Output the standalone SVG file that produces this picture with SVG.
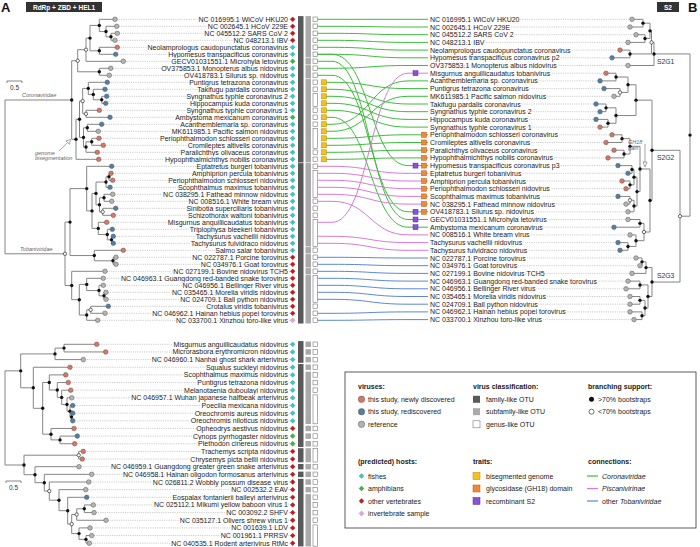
<svg xmlns="http://www.w3.org/2000/svg" xmlns:xlink="http://www.w3.org/1999/xlink" width="700" height="547" viewBox="0 0 700 547">
<style>
text{font-family:"Liberation Sans",Arial,sans-serif}
.L text,.U text{font-size:7px;fill:#1a1a1a;text-anchor:end;paint-order:stroke;stroke:#fff;stroke-width:2px;stroke-linejoin:round}
.R text{font-size:7px;fill:#1a1a1a;paint-order:stroke;stroke:#fff;stroke-width:2px;stroke-linejoin:round}
.dl{stroke:#8c8c8c;stroke-width:0.6;stroke-dasharray:0.7 1.1;fill:none}
.br path{stroke:#858585;stroke-width:1;fill:none}
.nb{fill:#111}
.nw{fill:#fff;stroke:#111;stroke-width:0.6}
.tr{fill:#dd7560;stroke:#555;stroke-width:0.5}
.tb{fill:#4f80aa;stroke:#555;stroke-width:0.5}
.tg{fill:#b4b4b4;stroke:#555;stroke-width:0.5}
.hf{fill:#3ec6c8;stroke:#208a8c}
.ha{fill:#3cb83c;stroke:#217a21}
.hv{fill:#c8171e;stroke:#8a0c10}
.hi{fill:#e2a4e2;stroke:#a070a0}
.cf{fill:#595959}
.cs{fill:#a9a9a9}
.cg{fill:#fff;stroke:#777;stroke-width:0.6}
.ty{fill:#f6c21a;stroke:#b38600;stroke-width:0.5}
.to{fill:#f0883a;stroke:#b35a12;stroke-width:0.5}
.tp{fill:#8a52d6;stroke:#5a2aa0;stroke-width:0.5}
.cn path{fill:none;stroke-width:1}
.gC{stroke:#3cbc3c}
.gP{stroke:#d67ad6}
.gB{stroke:#5a88d2}
.lab{font-size:5.5px;font-style:italic;fill:#666}
.hd{font-size:7px;font-weight:bold;fill:#1a1a1a}
.le{font-size:7px;fill:#1a1a1a}
.sg{font-size:6.8px;fill:#333}
</style>
<defs>
<path id="dm" d="M0-2.4L2.4 0 0 2.4-2.4 0Z" stroke-width="0.4"/>
<rect id="gq" x="0" y="-2.3" width="4.6" height="4.6"/>
<rect id="sq" x="0" y="-2.75" width="5.5" height="5.5"/>
<rect id="fq" x="0" y="-2.75" width="5.5" height="5.5"/>
<rect id="yq" x="0" y="-2.5" width="5" height="5"/>
</defs>

<!-- headers -->
<text x="1" y="12" font-size="13" font-weight="bold" fill="#111">A</text>
<rect x="26" y="2" width="76" height="10" fill="#333"/>
<text x="64" y="9.6" font-size="6.5" font-weight="bold" fill="#fff" text-anchor="middle">RdRp + ZBD + HEL1</text>
<rect x="657" y="2" width="22" height="10" fill="#333"/>
<text x="668" y="9.6" font-size="6.5" font-weight="bold" fill="#fff" text-anchor="middle">S2</text>
<text x="688" y="12" font-size="13" font-weight="bold" fill="#111">B</text>

<!-- scale bars and clade labels -->
<path d="M7 83V81H22V83" stroke="#555" stroke-width="0.7" fill="none"/>
<text x="14.5" y="90" font-size="6.5" fill="#333" text-anchor="middle">0.5</text>
<path d="M6 483V481H21V483" stroke="#555" stroke-width="0.7" fill="none"/>
<text x="13.5" y="490" font-size="6.5" fill="#333" text-anchor="middle">0.5</text>
<text class="lab" x="22" y="97">Coronaviridae</text>
<text class="lab" x="20" y="250.5">Tobaniviridae</text>
<text class="lab" x="35" y="154.5">genome</text>
<text class="lab" x="35" y="160">bisegmentation</text>
<path d="M59 151L67.5 142.8" stroke="#666" stroke-width="0.6"/>
<path d="M70.5 139.5L69.6 144.3 65.9 140.9Z" fill="#fff" stroke="#666" stroke-width="0.6"/>

<!-- tree A top -->
<g id="treeA" class="br">
<path d="M117.3 33.3H111V40.3H115"/><path d="M116.7 26.3H106V36.8H111"/><path d="M115 19.3H99.3V31.55H106"/>
<path d="M117.3 47.3H99.3V54.3H115.7"/><path d="M99.3 25.4H90V50.8H99.3"/><path d="M90 38.1H86V61.3H123.3"/>
<path d="M110.7 68.3H99.3V75.3H109.3"/><path d="M86 49.7H77.7V71.8H99.3"/><path d="M106.7 96.3H101.7V103.3H105.7"/>
<path d="M105 89.3H93.3V99.8H101.7"/><path d="M107.3 82.3H88.3V94.55H93.3"/><path d="M99.3 110.3H86V117.3H110"/>
<path d="M88.3 88.4H82.7V113.8H86"/><path d="M101.7 124.3H87.3V131.3H98.3"/><path d="M99 138.3H91.7V145.3H103.3"/>
<path d="M91.7 141.8H86V152.3H97.3"/><path d="M87.3 127.8H83.5V147.05H86"/><path d="M82.7 101.1H79.5V137.4H83.5"/>
<path d="M79.5 119.25H76V159.3H98.7"/><path d="M77.7 60.75H71.7V139.3H76"/><path d="M71.7 100H5V253.8H65"/>
<path d="M111 173.3H109V180.3H112.7"/><path d="M109 176.8H106V187.3H110"/><path d="M112.7 194.3H104V201.3H111.7"/>
<path d="M115.7 208.3H102.7V215.3H113.3"/><path d="M104 197.8H99.5V211.8H102.7"/><path d="M106 182.05H96V204.8H99.5"/>
<path d="M113.3 236.3H111.5V243.3H113.3"/><path d="M112.3 229.3H107.3V239.8H111.5"/><path d="M106.7 222.3H98.3V234.55H107.3"/>
<path d="M96 193.4H92V228.4H98.3"/><path d="M111.7 166.3H86.7V210.9H92"/><path d="M116 257.3H113V264.3H116"/>
<path d="M123.3 250.3H94.3V260.8H113"/><path d="M86.7 188.6H70V255.55H94.3"/><path d="M106 292.3H104V299.3H106"/>
<path d="M103.3 285.3H99V295.8H104"/><path d="M103.3 278.3H86.7V290.55H99"/><path d="M108.3 306.3H90.7V313.3H105"/>
<path d="M90.7 309.8H86.7V320.3H97.7"/><path d="M86.7 284.4H79.3V315.05H86.7"/><path d="M105 271.3H71.7V299.7H79.3"/>
<path d="M70 222.1H65V285.5H71.7"/>
</g>
<g id="nodesA">
<circle class="nb" cx="111" cy="36.8" r="1.7"/><circle class="nb" cx="106" cy="31.55" r="1.7"/><circle class="nb" cx="99.3" cy="25.4" r="1.7"/>
<circle class="nb" cx="99.3" cy="50.8" r="1.7"/><circle class="nb" cx="90" cy="38.1" r="1.7"/><circle class="nw" cx="86" cy="49.7" r="1.7"/>
<circle class="nb" cx="99.3" cy="71.8" r="1.7"/><circle class="nw" cx="77.7" cy="60.75" r="1.7"/><circle class="nb" cx="101.7" cy="99.8" r="1.7"/>
<circle class="nb" cx="93.3" cy="94.55" r="1.7"/><circle class="nb" cx="88.3" cy="88.4" r="1.7"/><circle class="nw" cx="86" cy="113.8" r="1.7"/>
<circle class="nw" cx="82.7" cy="101.1" r="1.7"/><circle class="nb" cx="87.3" cy="127.8" r="1.7"/><circle class="nb" cx="91.7" cy="141.8" r="1.7"/>
<circle class="nb" cx="86" cy="147.05" r="1.7"/><circle class="nb" cx="83.5" cy="137.4" r="1.7"/><circle class="nb" cx="79.5" cy="119.25" r="1.7"/>
<circle class="nb" cx="76" cy="139.3" r="1.7"/><circle class="nb" cx="71.7" cy="100" r="1.7"/>
<circle class="nb" cx="109" cy="176.8" r="1.7"/><circle class="nb" cx="106" cy="182.05" r="1.7"/><circle class="nb" cx="104" cy="197.8" r="1.7"/>
<circle class="nw" cx="102.7" cy="211.8" r="1.7"/><circle class="nb" cx="99.5" cy="204.8" r="1.7"/><circle class="nb" cx="96" cy="193.4" r="1.7"/>
<circle class="nb" cx="111.5" cy="239.8" r="1.7"/><circle class="nb" cx="107.3" cy="234.55" r="1.7"/><circle class="nb" cx="98.3" cy="228.4" r="1.7"/>
<circle class="nb" cx="92" cy="210.9" r="1.7"/><circle class="nb" cx="86.7" cy="188.6" r="1.7"/><circle class="nb" cx="113" cy="260.8" r="1.7"/>
<circle class="nb" cx="94.3" cy="255.55" r="1.7"/><circle class="nb" cx="70" cy="222.1" r="1.7"/><circle class="nb" cx="104" cy="295.8" r="1.7"/>
<circle class="nb" cx="99" cy="290.55" r="1.7"/><circle class="nb" cx="86.7" cy="284.4" r="1.7"/><circle class="nw" cx="90.7" cy="309.8" r="1.7"/>
<circle class="nb" cx="86.7" cy="315.05" r="1.7"/><circle class="nb" cx="79.3" cy="299.7" r="1.7"/><circle class="nb" cx="71.7" cy="285.5" r="1.7"/>
<circle class="nw" cx="65" cy="253.8" r="1.7"/>
</g>

<!-- tree A bottom -->
<g id="treeC" class="br">
<path d="M96.7 344.3H64V351.95H105.7"/><path d="M64 348.1H55V359.6H83.3"/><path d="M72.7 413.15H71.5V420.8H72.7"/>
<path d="M72.7 405.5H70V417H71.5"/><path d="M71.7 397.85H67V411.2H70"/><path d="M70.7 390.2H61.7V404.5H67"/>
<path d="M68.3 382.55H57.3V397.4H61.7"/><path d="M65.7 374.9H49.3V390H57.3"/><path d="M77.3 436.1H60V443.75H74.7"/>
<path d="M74 428.45H51V439.9H60"/><path d="M49.3 382.45H42.7V434.2H51"/><path d="M70 367.25H33.3V408.3H42.7"/>
<path d="M55 353.9H20.7V387.8H33.3"/><path d="M83.3 451.4H78.7V459.05H82.3"/><path d="M91.7 535.55H86V543.2H89.3"/>
<path d="M90 527.9H79V539.4H86"/><path d="M93.3 504.95H84.3V512.6H94"/><path d="M84.3 508.8H76.7V520.25H106"/>
<path d="M76.7 514.5H71.7V533.6H79"/><path d="M86.7 497.3H67.7V524.05H71.7"/><path d="M85.7 489.65H59V510.7H67.7"/>
<path d="M88.7 482H49.3V500.2H59"/><path d="M91.7 474.35H44.3V491.1H49.3"/><path d="M79 466.7H35V482.7H44.3"/>
<path d="M78.7 455.2H24V474.7H35"/><path d="M20.7 370.85H5V465H24"/>
</g>
<g id="nodesC">
<circle class="nb" cx="64" cy="348.1" r="1.7"/><circle class="nb" cx="55" cy="353.9" r="1.7"/><circle class="nb" cx="71.5" cy="417" r="1.7"/>
<circle class="nb" cx="70" cy="411.2" r="1.7"/><circle class="nb" cx="67" cy="404.5" r="1.7"/><circle class="nb" cx="61.7" cy="397.4" r="1.7"/>
<circle class="nb" cx="57.3" cy="390" r="1.7"/><circle class="nb" cx="49.3" cy="382.45" r="1.7"/><circle class="nb" cx="60" cy="439.9" r="1.7"/>
<circle class="nb" cx="51" cy="434.2" r="1.7"/><circle class="nb" cx="42.7" cy="408.3" r="1.7"/><circle class="nb" cx="33.3" cy="387.8" r="1.7"/>
<circle class="nb" cx="20.7" cy="370.85" r="1.7"/><circle class="nw" cx="78.7" cy="455.2" r="1.7"/><circle class="nb" cx="86" cy="539.4" r="1.7"/>
<circle class="nb" cx="79" cy="533.6" r="1.7"/><circle class="nb" cx="84.3" cy="508.8" r="1.7"/><circle class="nw" cx="76.7" cy="514.5" r="1.7"/>
<circle class="nw" cx="71.7" cy="524.05" r="1.7"/><circle class="nb" cx="67.7" cy="510.7" r="1.7"/><circle class="nb" cx="59" cy="500.2" r="1.7"/>
<circle class="nw" cx="49.3" cy="491.1" r="1.7"/><circle class="nb" cx="44.3" cy="482.7" r="1.7"/><circle class="nb" cx="35" cy="474.7" r="1.7"/>
<circle class="nb" cx="24" cy="465" r="1.7"/>
</g>

<!-- classification columns -->
<g id="classes">
<rect class="cf" x="298" y="16.1" width="5.5" height="146.4"/>
<rect class="cf" x="298" y="163.1" width="5.5" height="160.4"/>
<rect class="cs" x="305.5" y="16.1" width="5.5" height="41.4"/>
<rect class="cs" x="305.5" y="58.1" width="5.5" height="6.4"/>
<rect class="cs" x="305.5" y="65.1" width="5.5" height="13.4"/>
<rect class="cs" x="305.5" y="79.1" width="5.5" height="83.4"/>
<rect class="cs" x="305.5" y="163.1" width="5.5" height="83.4"/>
<rect class="cs" x="305.5" y="247.1" width="5.5" height="6.4"/>
<rect class="cs" x="305.5" y="254.1" width="5.5" height="13.4"/>
<rect class="cs" x="305.5" y="268.1" width="5.5" height="6.4"/>
<rect class="cs" x="305.5" y="275.1" width="5.5" height="48.4"/>
<g class="cg">
<use href="#gq" x="313" y="19.3"/><use href="#gq" x="313" y="26.3"/><use href="#gq" x="313" y="33.3"/><use href="#gq" x="313" y="40.3"/>
<use href="#gq" x="313" y="47.3"/><use href="#gq" x="313" y="54.3"/><use href="#gq" x="313" y="61.3"/><use href="#gq" x="313" y="68.3"/>
<use href="#gq" x="313" y="75.3"/><use href="#gq" x="313" y="82.3"/><use href="#gq" x="313" y="89.3"/>
<rect x="313" y="93.3" width="4.6" height="13"/>
<use href="#gq" x="313" y="110.3"/><use href="#gq" x="313" y="117.3"/><use href="#gq" x="313" y="124.3"/>
<rect x="313" y="128.3" width="4.6" height="20"/>
<use href="#gq" x="313" y="152.3"/><use href="#gq" x="313" y="159.3"/><use href="#gq" x="313" y="166.3"/>
<rect x="313" y="170.3" width="4.6" height="27"/>
<use href="#gq" x="313" y="201.3"/><use href="#gq" x="313" y="208.3"/><use href="#gq" x="313" y="215.3"/>
<rect x="313" y="219.3" width="4.6" height="27"/>
<use href="#gq" x="313" y="250.3"/><use href="#gq" x="313" y="257.3"/><use href="#gq" x="313" y="264.3"/><use href="#gq" x="313" y="271.3"/>
<rect x="313" y="275.3" width="4.6" height="27"/>
<use href="#gq" x="313" y="306.3"/><use href="#gq" x="313" y="313.3"/><use href="#gq" x="313" y="320.3"/>
</g>
<g class="ty">
<use href="#yq" x="321.5" y="82.3"/><use href="#yq" x="321.5" y="89.3"/><use href="#yq" x="321.5" y="96.3"/><use href="#yq" x="321.5" y="103.3"/>
<use href="#yq" x="321.5" y="110.3"/><use href="#yq" x="321.5" y="117.3"/><use href="#yq" x="321.5" y="124.3"/><use href="#yq" x="321.5" y="131.3"/>
<use href="#yq" x="321.5" y="138.3"/><use href="#yq" x="321.5" y="145.3"/><use href="#yq" x="321.5" y="152.3"/><use href="#yq" x="321.5" y="159.3"/>
</g>
<rect class="cf" x="298" y="341.1" width="5.5" height="21.7"/>
<rect class="cf" x="298" y="364.05" width="5.5" height="82.9"/>
<rect class="cf" x="298" y="448.2" width="5.5" height="14.05"/>
<use class="cf" href="#fq" x="298" y="466.7"/><use class="cf" href="#fq" x="298" y="474.35"/>
<rect class="cf" x="298" y="478.8" width="5.5" height="67.6"/>
<g class="cs">
<use href="#sq" x="305.5" y="344.3"/><use href="#sq" x="305.5" y="351.95"/><use href="#sq" x="305.5" y="359.6"/><use href="#sq" x="305.5" y="367.25"/>
<rect x="305.5" y="371.7" width="5.5" height="52.3"/>
<use href="#sq" x="305.5" y="428.45"/><use href="#sq" x="305.5" y="436.1"/><use href="#sq" x="305.5" y="443.75"/>
<rect x="305.5" y="448.2" width="5.5" height="14.05"/>
<use href="#sq" x="305.5" y="466.7"/><use href="#sq" x="305.5" y="474.35"/><use href="#sq" x="305.5" y="482"/><use href="#sq" x="305.5" y="489.65"/>
<rect x="305.5" y="494.1" width="5.5" height="52.3"/>
</g>
<g class="cg">
<use href="#gq" x="313" y="344.3"/><use href="#gq" x="313" y="351.95"/><use href="#gq" x="313" y="359.6"/><use href="#gq" x="313" y="367.25"/>
<use href="#gq" x="313" y="374.9"/><use href="#gq" x="313" y="382.55"/><use href="#gq" x="313" y="390.2"/>
<rect x="313" y="394.85" width="4.6" height="28.95"/>
<use href="#gq" x="313" y="428.45"/><use href="#gq" x="313" y="436.1"/><use href="#gq" x="313" y="443.75"/>
<rect x="313" y="448.4" width="4.6" height="13.65"/>
<use href="#gq" x="313" y="466.7"/><use href="#gq" x="313" y="474.35"/><use href="#gq" x="313" y="482"/><use href="#gq" x="313" y="489.65"/>
<use href="#gq" x="313" y="497.3"/><use href="#gq" x="313" y="504.95"/><use href="#gq" x="313" y="512.6"/><use href="#gq" x="313" y="520.25"/>
<rect x="313" y="524.9" width="4.6" height="21.3"/>
</g>
</g>

<!-- connectors (tanglegram) -->
<g id="connectors" class="cn">
<g class="gC">
<path d="M317.5 19.3H428"/>
<path d="M317.5 26.3H332C370 26.3 370 27 408 27H428"/>
<path d="M317.5 33.3H332C370 33.3 370 34.7 408 34.7H428"/>
<path d="M317.5 40.3H332C370 40.3 370 42.4 408 42.4H428"/>
<path d="M317.5 47.3H332C370 47.3 370 50.1 408 50.1H428"/>
<path d="M317.5 54.3H332C370 54.3 370 57.8 408 57.8H428"/>
<path d="M317.5 54.3H332C370 54.3 370 165.6 408 165.6H428"/>
<path d="M317.5 61.3H332C370 61.3 370 219.5 408 219.5H428"/>
<path d="M317.5 68.3H332C370 68.3 370 65.5 408 65.5H428"/>
<path d="M317.5 75.3H332C370 75.3 370 211.8 408 211.8H428"/>
<path d="M326.5 82.3H332C370 82.3 370 88.6 408 88.6H428"/>
<path d="M326.5 89.3H332C370 89.3 370 104 408 104H428"/>
<path d="M326.5 96.3H332C370 96.3 370 111.7 408 111.7H428"/>
<path d="M326.5 103.3H332C370 103.3 370 119.4 408 119.4H428"/>
<path d="M326.5 110.3H332C370 110.3 370 127.1 408 127.1H428"/>
<path d="M326.5 117.3H332C370 117.3 370 227.2 408 227.2H428"/>
<path d="M326.5 124.3H332C370 124.3 370 80.9 408 80.9H428"/>
<path d="M326.5 131.3H332C370 131.3 370 96.3 408 96.3H428"/>
<path d="M326.5 138.3H332C370 138.3 370 134.8 408 134.8H428"/>
<path d="M326.5 145.3H332C370 145.3 370 142.5 408 142.5H428"/>
<path d="M326.5 152.3H332C370 152.3 370 150.2 408 150.2H428"/>
<path d="M326.5 159.3H332C370 159.3 370 157.9 408 157.9H428"/>
</g>
<g class="gP">
<path d="M317.5 166.3H332C370 166.3 370 173.3 408 173.3H428"/>
<path d="M317.5 173.3H332C370 173.3 370 181 408 181H428"/>
<path d="M317.5 180.3H332C370 180.3 370 188.7 408 188.7H428"/>
<path d="M317.5 187.3H332C370 187.3 370 196.4 408 196.4H428"/>
<path d="M317.5 194.3H332C370 194.3 370 204.1 408 204.1H428"/>
<path d="M317.5 201.3H332C370 201.3 370 234.9 408 234.9H428"/>
<path d="M317.5 222.3H332C370 222.3 370 73.2 408 73.2H428"/>
<path d="M317.5 236.3H332C370 236.3 370 242.6 408 242.6H428"/>
<path d="M317.5 243.3H332C370 243.3 370 250.3 408 250.3H428"/>
</g>
<g class="gB">
<path d="M317.5 257.3H332C370 257.3 370 258 408 258H428"/>
<path d="M317.5 264.3H332C370 264.3 370 265.7 408 265.7H428"/>
<path d="M317.5 271.3H332C370 271.3 370 273.4 408 273.4H428"/>
<path d="M317.5 278.3H332C370 278.3 370 281.1 408 281.1H428"/>
<path d="M317.5 285.3H332C370 285.3 370 288.8 408 288.8H428"/>
<path d="M317.5 292.3H332C370 292.3 370 296.5 408 296.5H428"/>
<path d="M317.5 299.3H332C370 299.3 370 304.2 408 304.2H428"/>
<path d="M317.5 313.3H332C370 313.3 370 311.9 408 311.9H428"/>
<path d="M317.5 320.3H332C370 320.3 370 319.6 408 319.6H428"/>
</g>
</g>

<!-- right trait squares -->
<g id="rtraits">
<g class="tp"><use href="#yq" x="413" y="73.2"/><use href="#yq" x="413" y="165.6"/><use href="#yq" x="413" y="211.8"/><use href="#yq" x="413" y="219.5"/><use href="#yq" x="413" y="227.2"/></g>
<g class="to"><use href="#yq" x="421.5" y="134.8"/><use href="#yq" x="421.5" y="142.5"/><use href="#yq" x="421.5" y="150.2"/><use href="#yq" x="421.5" y="157.9"/><use href="#yq" x="421.5" y="165.6"/><use href="#yq" x="421.5" y="173.3"/><use href="#yq" x="421.5" y="181"/><use href="#yq" x="421.5" y="188.7"/><use href="#yq" x="421.5" y="196.4"/><use href="#yq" x="421.5" y="204.1"/><use href="#yq" x="421.5" y="211.8"/></g>
</g>

<!-- left top tips -->
<g class="L">
<g id="t1" transform="translate(0 19.3)"><path class="dl" d="M117.4 0H291"/><text x="288" y="2.5">NC 016995.1 WiCoV HKU20</text><circle class="tg" cx="115" r="2.3"/><use href="#dm" class="hv" x="292.7"/></g>
<g id="t2" transform="translate(0 26.3)"><path class="dl" d="M119 0H291"/><text x="288" y="2.5">NC 002645.1 HCoV 229E</text><circle class="tg" cx="116.7" r="2.3"/><use href="#dm" class="hv" x="292.7"/></g>
<g id="t3" transform="translate(0 33.3)"><path class="dl" d="M119.6 0H291"/><text x="288" y="2.5">NC 045512.2 SARS CoV 2</text><circle class="tg" cx="117.3" r="2.3"/><use href="#dm" class="hv" x="292.7"/></g>
<g id="t4" transform="translate(0 40.3)"><path class="dl" d="M117.4 0H291"/><text x="288" y="2.5">NC 048213.1 IBV</text><circle class="tg" cx="115" r="2.3"/><use href="#dm" class="hv" x="292.7"/></g>
<g id="t5" transform="translate(0 47.3)"><path class="dl" d="M119.6 0H291"/><text x="288" y="2.5">Neolamprologus caudopunctatus coronavirus</text><circle class="tr" cx="117.3" r="2.3"/><use href="#dm" class="hf" x="292.7"/></g>
<g id="t6" transform="translate(0 54.3)"><path class="dl" d="M118 0H291"/><text x="288" y="2.5">Hypomesus transpacificus coronavirus</text><circle class="tb" cx="115.7" r="2.3"/><use href="#dm" class="hf" x="292.7"/></g>
<g id="t7" transform="translate(0 61.3)"><path class="dl" d="M125.6 0H291"/><text x="288" y="2.5">GECV01031551.1 Microhyla letovirus</text><circle class="tg" cx="123.3" r="2.3"/><use href="#dm" class="ha" x="292.7"/></g>
<g id="t8" transform="translate(0 68.3)"><path class="dl" d="M113 0H291"/><text x="288" y="2.5">OV375853.1 Monopterus albus nidovirus</text><circle class="tg" cx="110.7" r="2.3"/><use href="#dm" class="hf" x="292.7"/></g>
<g id="t9" transform="translate(0 75.3)"><path class="dl" d="M111.6 0H291"/><text x="288" y="2.5">OV418783.1 Silurus sp. nidovirus</text><circle class="tg" cx="109.3" r="2.3"/><use href="#dm" class="hf" x="292.7"/></g>
<g id="t10" transform="translate(0 82.3)"><path class="dl" d="M109.6 0H291"/><text x="288" y="2.5">Puntigrus tetrazona coronavirus</text><circle class="tb" cx="107.3" r="2.3"/><use href="#dm" class="hf" x="292.7"/></g>
<g id="t11" transform="translate(0 89.3)"><path class="dl" d="M107.3 0H291"/><text x="288" y="2.5">Takifugu pardalis coronavirus</text><circle class="tb" cx="105" r="2.3"/><use href="#dm" class="hf" x="292.7"/></g>
<g id="t12" transform="translate(0 96.3)"><path class="dl" d="M109 0H291"/><text x="288" y="2.5">Syngnathus typhle coronavirus 2</text><circle class="tb" cx="106.7" r="2.3"/><use href="#dm" class="hf" x="292.7"/></g>
<g id="t13" transform="translate(0 103.3)"><path class="dl" d="M108 0H291"/><text x="288" y="2.5">Hippocampus kuda coronavirus</text><circle class="tb" cx="105.7" r="2.3"/><use href="#dm" class="hf" x="292.7"/></g>
<g id="t14" transform="translate(0 110.3)"><path class="dl" d="M101.6 0H291"/><text x="288" y="2.5">Syngnathus typhle coronavirus 1</text><circle class="tr" cx="99.3" r="2.3"/><use href="#dm" class="hf" x="292.7"/></g>
<g id="t15" transform="translate(0 117.3)"><path class="dl" d="M112.3 0H291"/><text x="288" y="2.5">Ambystoma mexicanum coronavirus</text><circle class="tb" cx="110" r="2.3"/><use href="#dm" class="ha" x="292.7"/></g>
<g id="t16" transform="translate(0 124.3)"><path class="dl" d="M104 0H291"/><text x="288" y="2.5">Acanthemblemaria sp. coronavirus</text><circle class="tb" cx="101.7" r="2.3"/><use href="#dm" class="hf" x="292.7"/></g>
<g id="t17" transform="translate(0 131.3)"><path class="dl" d="M100.6 0H291"/><text x="288" y="2.5">MK611985.1 Pacific salmon nidovirus</text><circle class="tg" cx="98.3" r="2.3"/><use href="#dm" class="hf" x="292.7"/></g>
<g id="t18" transform="translate(0 138.3)"><path class="dl" d="M101.3 0H291"/><text x="288" y="2.5">Periophthalmodon schlosseri coronavirus</text><circle class="tr" cx="99" r="2.3"/><use href="#dm" class="hf" x="292.7"/></g>
<g id="t19" transform="translate(0 145.3)"><path class="dl" d="M105.6 0H291"/><text x="288" y="2.5">Cromileptes altivelis coronavirus</text><circle class="tr" cx="103.3" r="2.3"/><use href="#dm" class="hf" x="292.7"/></g>
<g id="t20" transform="translate(0 152.3)"><path class="dl" d="M99.6 0H291"/><text x="288" y="2.5">Paralichthys olivaceus coronavirus</text><circle class="tr" cx="97.3" r="2.3"/><use href="#dm" class="hf" x="292.7"/></g>
<g id="t21" transform="translate(0 159.3)"><path class="dl" d="M101 0H291"/><text x="288" y="2.5">Hypophthalmichthys nobilis coronavirus</text><circle class="tr" cx="98.7" r="2.3"/><use href="#dm" class="hf" x="292.7"/></g>
<g id="t22" transform="translate(0 166.3)"><path class="dl" d="M114 0H291"/><text x="288" y="2.5">Eptatretus burgeri tobanivirus</text><circle class="tb" cx="111.7" r="2.3"/><use href="#dm" class="hf" x="292.7"/></g>
<g id="t23" transform="translate(0 173.3)"><path class="dl" d="M113.3 0H291"/><text x="288" y="2.5">Amphiprion percula tobanivirus</text><circle class="tr" cx="111" r="2.3"/><use href="#dm" class="hf" x="292.7"/></g>
<g id="t24" transform="translate(0 180.3)"><path class="dl" d="M115 0H291"/><text x="288" y="2.5">Periophthalmodon schlosseri nidovirus</text><circle class="tr" cx="112.7" r="2.3"/><use href="#dm" class="hf" x="292.7"/></g>
<g id="t25" transform="translate(0 187.3)"><path class="dl" d="M112.3 0H291"/><text x="288" y="2.5">Scophthalmus maximus tobanivirus</text><circle class="tb" cx="110" r="2.3"/><use href="#dm" class="hf" x="292.7"/></g>
<g id="t26" transform="translate(0 194.3)"><path class="dl" d="M115 0H291"/><text x="288" y="2.5">NC 038295.1 Fathead minnow nidovirus</text><circle class="tg" cx="112.7" r="2.3"/><use href="#dm" class="hf" x="292.7"/></g>
<g id="t27" transform="translate(0 201.3)"><path class="dl" d="M114 0H291"/><text x="288" y="2.5">NC 008516.1 White bream virus</text><circle class="tg" cx="111.7" r="2.3"/><use href="#dm" class="hf" x="292.7"/></g>
<g id="t28" transform="translate(0 208.3)"><path class="dl" d="M118 0H291"/><text x="288" y="2.5">Sinibotia superciliaris tobanivirus</text><circle class="tb" cx="115.7" r="2.3"/><use href="#dm" class="hf" x="292.7"/></g>
<g id="t29" transform="translate(0 215.3)"><path class="dl" d="M115.6 0H291"/><text x="288" y="2.5">Schizothorax waltoni tobanivirus</text><circle class="tr" cx="113.3" r="2.3"/><use href="#dm" class="hf" x="292.7"/></g>
<g id="t30" transform="translate(0 222.3)"><path class="dl" d="M109 0H291"/><text x="288" y="2.5">Misgurnus anguillicaudatus tobanivirus</text><circle class="tr" cx="106.7" r="2.3"/><use href="#dm" class="hf" x="292.7"/></g>
<g id="t31" transform="translate(0 229.3)"><path class="dl" d="M114.6 0H291"/><text x="288" y="2.5">Triplophysa bleekeri tobanivirus</text><circle class="tb" cx="112.3" r="2.3"/><use href="#dm" class="hf" x="292.7"/></g>
<g id="t32" transform="translate(0 236.3)"><path class="dl" d="M115.6 0H291"/><text x="288" y="2.5">Tachysurus vachellii nidovirus</text><circle class="tb" cx="113.3" r="2.3"/><use href="#dm" class="hf" x="292.7"/></g>
<g id="t33" transform="translate(0 243.3)"><path class="dl" d="M115.6 0H291"/><text x="288" y="2.5">Tachysurus fulvidraco nidovirus</text><circle class="tb" cx="113.3" r="2.3"/><use href="#dm" class="hf" x="292.7"/></g>
<g id="t34" transform="translate(0 250.3)"><path class="dl" d="M125.6 0H291"/><text x="288" y="2.5">Salmo salar tobanivirus</text><circle class="tr" cx="123.3" r="2.3"/><use href="#dm" class="hf" x="292.7"/></g>
<g id="t35" transform="translate(0 257.3)"><path class="dl" d="M118.3 0H291"/><text x="288" y="2.5">NC 022787.1 Porcine torovirus</text><circle class="tg" cx="116" r="2.3"/><use href="#dm" class="hv" x="292.7"/></g>
<g id="t36" transform="translate(0 264.3)"><path class="dl" d="M118.3 0H291"/><text x="288" y="2.5">NC 034976.1 Goat torovirus</text><circle class="tg" cx="116" r="2.3"/><use href="#dm" class="hv" x="292.7"/></g>
<g id="t37" transform="translate(0 271.3)"><path class="dl" d="M107.3 0H291"/><text x="288" y="2.5">NC 027199.1 Bovine nidovirus TCH5</text><circle class="tg" cx="105" r="2.3"/><use href="#dm" class="hv" x="292.7"/></g>
<g id="t38" transform="translate(0 278.3)"><path class="dl" d="M105.6 0H291"/><text x="288" y="2.5">NC 046963.1 Guangdong red-banded snake torovirus</text><circle class="tg" cx="103.3" r="2.3"/><use href="#dm" class="hv" x="292.7"/></g>
<g id="t39" transform="translate(0 285.3)"><path class="dl" d="M105.6 0H291"/><text x="288" y="2.5">NC 046956.1 Bellinger River virus</text><circle class="tg" cx="103.3" r="2.3"/><use href="#dm" class="hv" x="292.7"/></g>
<g id="t40" transform="translate(0 292.3)"><path class="dl" d="M108.3 0H291"/><text x="288" y="2.5">NC 035465.1 Morelia viridis nidovirus</text><circle class="tg" cx="106" r="2.3"/><use href="#dm" class="hv" x="292.7"/></g>
<g id="t41" transform="translate(0 299.3)"><path class="dl" d="M108.3 0H291"/><text x="288" y="2.5">NC 024709.1 Ball python nidovirus</text><circle class="tg" cx="106" r="2.3"/><use href="#dm" class="hv" x="292.7"/></g>
<g id="t42" transform="translate(0 306.3)"><path class="dl" d="M110.6 0H291"/><text x="288" y="2.5">Crotalus viridis tobanivirus</text><circle class="tb" cx="108.3" r="2.3"/><use href="#dm" class="hv" x="292.7"/></g>
<g id="t43" transform="translate(0 313.3)"><path class="dl" d="M107.3 0H291"/><text x="288" y="2.5">NC 046962.1 Hainan hebius popei torovirus</text><circle class="tg" cx="105" r="2.3"/><use href="#dm" class="hv" x="292.7"/></g>
<g id="t44" transform="translate(0 320.3)"><path class="dl" d="M100 0H291"/><text x="288" y="2.5">NC 033700.1 Xinzhou toro-like virus</text><circle class="tg" cx="97.7" r="2.3"/><use href="#dm" class="hi" x="292.7"/></g>
</g>

<!-- left bottom tips -->
<g class="U">
<g id="u1" transform="translate(0 344.3)"><path class="dl" d="M99 0H291"/><text x="288" y="2.5">Misgurnus anguillicaudatus nidovirus</text><circle class="tr" cx="96.7" r="2.3"/><use href="#dm" class="hf" x="292.7"/></g>
<g id="u2" transform="translate(0 351.95)"><path class="dl" d="M108 0H291"/><text x="288" y="2.5">Microrasbora erythromicron nidovirus</text><circle class="tr" cx="105.7" r="2.3"/><use href="#dm" class="hf" x="292.7"/></g>
<g id="u3" transform="translate(0 359.6)"><path class="dl" d="M85.6 0H291"/><text x="288" y="2.5">NC 046960.1 Nanhai ghost shark arterivirus</text><circle class="tg" cx="83.3" r="2.3"/><use href="#dm" class="hf" x="292.7"/></g>
<g id="u4" transform="translate(0 367.25)"><path class="dl" d="M72.3 0H291"/><text x="288" y="2.5">Squalus suckleyi nidovirus</text><circle class="tr" cx="70" r="2.3"/><use href="#dm" class="hf" x="292.7"/></g>
<g id="u5" transform="translate(0 374.9)"><path class="dl" d="M68 0H291"/><text x="288" y="2.5">Scophthalmus maximus nidovirus</text><circle class="tr" cx="65.7" r="2.3"/><use href="#dm" class="hf" x="292.7"/></g>
<g id="u6" transform="translate(0 382.55)"><path class="dl" d="M70.6 0H291"/><text x="288" y="2.5">Puntigrus tetrazona nidovirus</text><circle class="tr" cx="68.3" r="2.3"/><use href="#dm" class="hf" x="292.7"/></g>
<g id="u7" transform="translate(0 390.2)"><path class="dl" d="M73 0H291"/><text x="288" y="2.5">Melanotaenia duboulayi nidovirus</text><circle class="tr" cx="70.7" r="2.3"/><use href="#dm" class="hf" x="292.7"/></g>
<g id="u8" transform="translate(0 397.85)"><path class="dl" d="M74 0H291"/><text x="288" y="2.5">NC 046957.1 Wuhan japanese halfbeak arterivirus</text><circle class="tg" cx="71.7" r="2.3"/><use href="#dm" class="hf" x="292.7"/></g>
<g id="u9" transform="translate(0 405.5)"><path class="dl" d="M75 0H291"/><text x="288" y="2.5">Poecilia mexicana nidovirus</text><circle class="tb" cx="72.7" r="2.3"/><use href="#dm" class="hf" x="292.7"/></g>
<g id="u10" transform="translate(0 413.15)"><path class="dl" d="M75 0H291"/><text x="288" y="2.5">Oreochromis aureus nidovirus</text><circle class="tb" cx="72.7" r="2.3"/><use href="#dm" class="hf" x="292.7"/></g>
<g id="u11" transform="translate(0 420.8)"><path class="dl" d="M75 0H291"/><text x="288" y="2.5">Oreochromis niloticus nidovirus</text><circle class="tb" cx="72.7" r="2.3"/><use href="#dm" class="hf" x="292.7"/></g>
<g id="u12" transform="translate(0 428.45)"><path class="dl" d="M76.3 0H291"/><text x="288" y="2.5">Opheodrys aestivus nidovirus</text><circle class="tr" cx="74" r="2.3"/><use href="#dm" class="hv" x="292.7"/></g>
<g id="u13" transform="translate(0 436.1)"><path class="dl" d="M79.6 0H291"/><text x="288" y="2.5">Cynops pyrrhogaster nidovirus</text><circle class="tb" cx="77.3" r="2.3"/><use href="#dm" class="ha" x="292.7"/></g>
<g id="u14" transform="translate(0 443.75)"><path class="dl" d="M77 0H291"/><text x="288" y="2.5">Plethodon cinereus nidovirus</text><circle class="tr" cx="74.7" r="2.3"/><use href="#dm" class="ha" x="292.7"/></g>
<g id="u15" transform="translate(0 451.4)"><path class="dl" d="M85.6 0H291"/><text x="288" y="2.5">Trachemys scripta nidovirus</text><circle class="tr" cx="83.3" r="2.3"/><use href="#dm" class="hv" x="292.7"/></g>
<g id="u16" transform="translate(0 459.05)"><path class="dl" d="M84.6 0H291"/><text x="288" y="2.5">Chrysemys picta bellii nidovirus</text><circle class="tr" cx="82.3" r="2.3"/><use href="#dm" class="hv" x="292.7"/></g>
<g id="u17" transform="translate(0 466.7)"><path class="dl" d="M81.3 0H291"/><text x="288" y="2.5">NC 046959.1 Guangdong greater green snake arterivirus</text><circle class="tg" cx="79" r="2.3"/><use href="#dm" class="hv" x="292.7"/></g>
<g id="u18" transform="translate(0 474.35)"><path class="dl" d="M94 0H291"/><text x="288" y="2.5">NC 046958.1 Hainan oligodon formosanus arterivirus</text><circle class="tg" cx="91.7" r="2.3"/><use href="#dm" class="hv" x="292.7"/></g>
<g id="u19" transform="translate(0 482)"><path class="dl" d="M91 0H291"/><text x="288" y="2.5">NC 026811.2 Wobbly possum disease virus</text><circle class="tg" cx="88.7" r="2.3"/><use href="#dm" class="hv" x="292.7"/></g>
<g id="u20" transform="translate(0 489.65)"><path class="dl" d="M88 0H291"/><text x="288" y="2.5">NC 002532.2 EAV</text><circle class="tg" cx="85.7" r="2.3"/><use href="#dm" class="hv" x="292.7"/></g>
<g id="u21" transform="translate(0 497.3)"><path class="dl" d="M89 0H291"/><text x="288" y="2.5">Eospalax fontanierii baileyi arterivirus</text><circle class="tb" cx="86.7" r="2.3"/><use href="#dm" class="hv" x="292.7"/></g>
<g id="u22" transform="translate(0 504.95)"><path class="dl" d="M95.6 0H291"/><text x="288" y="2.5">NC 025112.1 Mikumi yellow baboon virus 1</text><circle class="tg" cx="93.3" r="2.3"/><use href="#dm" class="hv" x="292.7"/></g>
<g id="u23" transform="translate(0 512.6)"><path class="dl" d="M96.3 0H291"/><text x="288" y="2.5">NC 003092.2 SHFV</text><circle class="tg" cx="94" r="2.3"/><use href="#dm" class="hv" x="292.7"/></g>
<g id="u24" transform="translate(0 520.25)"><path class="dl" d="M108.3 0H291"/><text x="288" y="2.5">NC 035127.1 Olivers shrew virus 1</text><circle class="tg" cx="106" r="2.3"/><use href="#dm" class="hv" x="292.7"/></g>
<g id="u25" transform="translate(0 527.9)"><path class="dl" d="M92.3 0H291"/><text x="288" y="2.5">NC 001639.1 LDV</text><circle class="tg" cx="90" r="2.3"/><use href="#dm" class="hv" x="292.7"/></g>
<g id="u26" transform="translate(0 535.55)"><path class="dl" d="M94 0H291"/><text x="288" y="2.5">NC 001961.1 PRRSV</text><circle class="tg" cx="91.7" r="2.3"/><use href="#dm" class="hv" x="292.7"/></g>
<g id="u27" transform="translate(0 543.2)"><path class="dl" d="M91.6 0H291"/><text x="288" y="2.5">NC 040535.1 Rodent arterivirus RtMc</text><circle class="tg" cx="89.3" r="2.3"/><use href="#dm" class="hv" x="292.7"/></g>
</g>

<!-- right tree -->
<g id="treeB" class="br">
<path d="M632 19.3H643V27H630"/><path d="M636 34.7H645V42.4H628"/><path d="M643 23.15H650V38.55H645"/>
<path d="M620 50.1H630V57.8H612"/><path d="M650 30.85H651.5V53.95H630"/><path d="M651.5 42.4H654V65.5H628"/>
<path d="M606 73.2H616V80.9H600"/><path d="M604 88.6H620V96.3H614"/><path d="M616 77.05H628V92.45H620"/>
<path d="M596 104H606V111.7H600"/><path d="M596 119.4H608V127.1H600"/><path d="M606 107.85H616V123.25H608"/>
<path d="M628 84.75H636V115.55H616"/>
<path d="M612 134.8H622V142.5H606"/><path d="M614 150.2H624V157.9H608"/><path d="M622 138.65H630V154.05H624"/>
<path d="M618 165.6H632V173.3H628"/><path d="M622 181H630V188.7H626"/><path d="M632 169.45H634V184.85H630"/>
<path d="M618 196.4H630V204.1H626"/><path d="M630 200.25H634V211.8H628"/><path d="M634 177.15H637V206H634"/>
<path d="M630 146.35H640V191.6H637"/>
<path d="M628 219.5H640V227.2H614"/><path d="M618 242.6H628V250.3H620"/><path d="M630 234.9H636V246.45H628"/>
<path d="M640 223.35H644V240.7H636"/><path d="M640 168.97H650V232H644"/><path d="M636 100.15H652V200.5H650"/>
<path d="M636 258H642V265.7H640"/><path d="M642 261.85H646V273.4H632"/><path d="M628 281.1H640V288.8H626"/>
<path d="M630 296.5H640V304.2H630"/><path d="M630 311.9H642V319.6H634"/><path d="M640 300.35H645V315.75H642"/>
<path d="M640 284.95H648V308.05H645"/><path d="M646 267.6H652V296.5H648"/>
<path d="M652 150.3H680V282.05H652"/><path d="M654 53.95H690V216.2H680"/>
</g>
<g id="nodesB">
<circle class="nb" cx="643" cy="23.15" r="1.7"/><circle class="nb" cx="645" cy="38.55" r="1.7"/><circle class="nb" cx="650" cy="30.85" r="1.7"/>
<circle class="nb" cx="630" cy="53.95" r="1.7"/><circle class="nw" cx="651.5" cy="42.4" r="1.7"/><circle class="nb" cx="654" cy="53.95" r="1.7"/>
<circle class="nb" cx="616" cy="77.05" r="1.7"/><circle class="nw" cx="620" cy="92.45" r="1.7"/><circle class="nb" cx="628" cy="84.75" r="1.7"/>
<circle class="nb" cx="606" cy="107.85" r="1.7"/><circle class="nb" cx="608" cy="123.25" r="1.7"/><circle class="nb" cx="616" cy="115.55" r="1.7"/>
<circle class="nb" cx="636" cy="100.15" r="1.7"/>
<circle class="nb" cx="622" cy="138.65" r="1.7"/><circle class="nb" cx="624" cy="154.05" r="1.7"/><circle class="nb" cx="630" cy="146.35" r="1.7"/>
<circle class="nb" cx="632" cy="169.45" r="1.7"/><circle class="nb" cx="630" cy="184.85" r="1.7"/><circle class="nb" cx="634" cy="177.15" r="1.7"/>
<circle class="nw" cx="630" cy="200.25" r="1.7"/><circle class="nb" cx="634" cy="206" r="1.7"/><circle class="nb" cx="637" cy="191.6" r="1.7"/>
<circle class="nb" cx="640" cy="168.97" r="1.7"/>
<circle class="nb" cx="640" cy="223.35" r="1.7"/><circle class="nb" cx="628" cy="246.45" r="1.7"/><circle class="nb" cx="636" cy="240.7" r="1.7"/>
<circle class="nw" cx="644" cy="232" r="1.7"/><circle class="nb" cx="650" cy="200.5" r="1.7"/><circle class="nb" cx="652" cy="150.3" r="1.7"/>
<circle class="nb" cx="642" cy="261.85" r="1.7"/><circle class="nb" cx="646" cy="267.6" r="1.7"/><circle class="nb" cx="640" cy="284.95" r="1.7"/>
<circle class="nb" cx="640" cy="300.35" r="1.7"/><circle class="nb" cx="642" cy="315.75" r="1.7"/><circle class="nb" cx="645" cy="308.05" r="1.7"/>
<circle class="nb" cx="648" cy="296.5" r="1.7"/><circle class="nb" cx="652" cy="282.05" r="1.7"/>
<circle class="nw" cx="680" cy="216.2" r="1.7"/><circle class="nb" cx="690" cy="135.1" r="1.7"/>
</g>
<text class="sg" x="657" y="64">S2G1</text>
<text class="sg" x="657" y="160">S2G2</text>
<text class="sg" x="657" y="278">S2G3</text>
<text class="lab" x="628" y="144">GH18</text>
<text class="lab" x="628" y="150">gain</text>
<path d="M645 144V162" stroke="#666" stroke-width="0.6"/>
<path d="M645 167L643 162H647Z" fill="#fff" stroke="#666" stroke-width="0.6"/>

<!-- right tips -->
<g class="R">
<g id="r1" transform="translate(0 19.3)"><path class="dl" d="M430 0H629.6"/><text x="430" y="2.5">NC 016995.1 WiCoV HKU20</text><circle class="tg" cx="632" r="2.3"/></g>
<g id="r2" transform="translate(0 27)"><path class="dl" d="M430 0H627.6"/><text x="430" y="2.5">NC 002645.1 HCoV 229E</text><circle class="tg" cx="630" r="2.3"/></g>
<g id="r3" transform="translate(0 34.7)"><path class="dl" d="M430 0H633.6"/><text x="430" y="2.5">NC 045512.2 SARS CoV 2</text><circle class="tg" cx="636" r="2.3"/></g>
<g id="r4" transform="translate(0 42.4)"><path class="dl" d="M430 0H625.6"/><text x="430" y="2.5">NC 048213.1 IBV</text><circle class="tg" cx="628" r="2.3"/></g>
<g id="r5" transform="translate(0 50.1)"><path class="dl" d="M430 0H617.6"/><text x="430" y="2.5">Neolamprologus caudopunctatus coronavirus</text><circle class="tr" cx="620" r="2.3"/></g>
<g id="r6" transform="translate(0 57.8)"><path class="dl" d="M430 0H609.6"/><text x="430" y="2.5">Hypomesus transpacificus coronavirus p2</text><circle class="tb" cx="612" r="2.3"/></g>
<g id="r7" transform="translate(0 65.5)"><path class="dl" d="M430 0H625.6"/><text x="430" y="2.5">OV375853.1 Monopterus albus nidovirus</text><circle class="tg" cx="628" r="2.3"/></g>
<g id="r8" transform="translate(0 73.2)"><path class="dl" d="M430 0H603.6"/><text x="430" y="2.5">Misgurnus anguillicaudatus tobanivirus</text><circle class="tr" cx="606" r="2.3"/></g>
<g id="r9" transform="translate(0 80.9)"><path class="dl" d="M430 0H597.6"/><text x="430" y="2.5">Acanthemblemaria sp. coronavirus</text><circle class="tb" cx="600" r="2.3"/></g>
<g id="r10" transform="translate(0 88.6)"><path class="dl" d="M430 0H601.6"/><text x="430" y="2.5">Puntigrus tetrazona coronavirus</text><circle class="tb" cx="604" r="2.3"/></g>
<g id="r11" transform="translate(0 96.3)"><path class="dl" d="M430 0H611.6"/><text x="430" y="2.5">MK611985.1 Pacific salmon nidovirus</text><circle class="tg" cx="614" r="2.3"/></g>
<g id="r12" transform="translate(0 104)"><path class="dl" d="M430 0H593.6"/><text x="430" y="2.5">Takifugu pardalis coronavirus</text><circle class="tb" cx="596" r="2.3"/></g>
<g id="r13" transform="translate(0 111.7)"><path class="dl" d="M430 0H597.6"/><text x="430" y="2.5">Syngnathus typhle coronavirus 2</text><circle class="tb" cx="600" r="2.3"/></g>
<g id="r14" transform="translate(0 119.4)"><path class="dl" d="M430 0H593.6"/><text x="430" y="2.5">Hippocampus kuda coronavirus</text><circle class="tb" cx="596" r="2.3"/></g>
<g id="r15" transform="translate(0 127.1)"><path class="dl" d="M430 0H597.6"/><text x="430" y="2.5">Syngnathus typhle coronavirus 1</text><circle class="tr" cx="600" r="2.3"/></g>
<g id="r16" transform="translate(0 134.8)"><path class="dl" d="M430 0H609.6"/><text x="430" y="2.5">Periophthalmodon schlosseri coronavirus</text><circle class="tr" cx="612" r="2.3"/></g>
<g id="r17" transform="translate(0 142.5)"><path class="dl" d="M430 0H603.6"/><text x="430" y="2.5">Cromileptes altivelis coronavirus</text><circle class="tr" cx="606" r="2.3"/></g>
<g id="r18" transform="translate(0 150.2)"><path class="dl" d="M430 0H611.6"/><text x="430" y="2.5">Paralichthys olivaceus coronavirus</text><circle class="tr" cx="614" r="2.3"/></g>
<g id="r19" transform="translate(0 157.9)"><path class="dl" d="M430 0H605.6"/><text x="430" y="2.5">Hypophthalmichthys nobilis coronavirus</text><circle class="tr" cx="608" r="2.3"/></g>
<g id="r20" transform="translate(0 165.6)"><path class="dl" d="M430 0H615.6"/><text x="430" y="2.5">Hypomesus transpacificus coronavirus p3</text><circle class="tb" cx="618" r="2.3"/></g>
<g id="r21" transform="translate(0 173.3)"><path class="dl" d="M430 0H625.6"/><text x="430" y="2.5">Eptatretus burgeri tobanivirus</text><circle class="tb" cx="628" r="2.3"/></g>
<g id="r22" transform="translate(0 181)"><path class="dl" d="M430 0H619.6"/><text x="430" y="2.5">Amphiprion percula tobanivirus</text><circle class="tr" cx="622" r="2.3"/></g>
<g id="r23" transform="translate(0 188.7)"><path class="dl" d="M430 0H623.6"/><text x="430" y="2.5">Periophthalmodon schlosseri nidovirus</text><circle class="tr" cx="626" r="2.3"/></g>
<g id="r24" transform="translate(0 196.4)"><path class="dl" d="M430 0H615.6"/><text x="430" y="2.5">Scophthalmus maximus tobanivirus</text><circle class="tb" cx="618" r="2.3"/></g>
<g id="r25" transform="translate(0 204.1)"><path class="dl" d="M430 0H623.6"/><text x="430" y="2.5">NC 038295.1 Fathead minnow nidovirus</text><circle class="tg" cx="626" r="2.3"/></g>
<g id="r26" transform="translate(0 211.8)"><path class="dl" d="M430 0H625.6"/><text x="430" y="2.5">OV418783.1 Silurus sp. nidovirus</text><circle class="tg" cx="628" r="2.3"/></g>
<g id="r27" transform="translate(0 219.5)"><path class="dl" d="M430 0H625.6"/><text x="430" y="2.5">GECV01031551.1 Microhyla letovirus</text><circle class="tg" cx="628" r="2.3"/></g>
<g id="r28" transform="translate(0 227.2)"><path class="dl" d="M430 0H611.6"/><text x="430" y="2.5">Ambystoma mexicanum coronavirus</text><circle class="tb" cx="614" r="2.3"/></g>
<g id="r29" transform="translate(0 234.9)"><path class="dl" d="M430 0H627.6"/><text x="430" y="2.5">NC 008516.1 White bream virus</text><circle class="tg" cx="630" r="2.3"/></g>
<g id="r30" transform="translate(0 242.6)"><path class="dl" d="M430 0H615.6"/><text x="430" y="2.5">Tachysurus vachellii nidovirus</text><circle class="tb" cx="618" r="2.3"/></g>
<g id="r31" transform="translate(0 250.3)"><path class="dl" d="M430 0H617.6"/><text x="430" y="2.5">Tachysurus fulvidraco nidovirus</text><circle class="tb" cx="620" r="2.3"/></g>
<g id="r32" transform="translate(0 258)"><path class="dl" d="M430 0H633.6"/><text x="430" y="2.5">NC 022787.1 Porcine torovirus</text><circle class="tg" cx="636" r="2.3"/></g>
<g id="r33" transform="translate(0 265.7)"><path class="dl" d="M430 0H637.6"/><text x="430" y="2.5">NC 034976.1 Goat torovirus</text><circle class="tg" cx="640" r="2.3"/></g>
<g id="r34" transform="translate(0 273.4)"><path class="dl" d="M430 0H629.6"/><text x="430" y="2.5">NC 027199.1 Bovine nidovirus TCH5</text><circle class="tg" cx="632" r="2.3"/></g>
<g id="r35" transform="translate(0 281.1)"><path class="dl" d="M430 0H625.6"/><text x="430" y="2.5">NC 046963.1 Guangdong red-banded snake torovirus</text><circle class="tg" cx="628" r="2.3"/></g>
<g id="r36" transform="translate(0 288.8)"><path class="dl" d="M430 0H623.6"/><text x="430" y="2.5">NC 046956.1 Bellinger River virus</text><circle class="tg" cx="626" r="2.3"/></g>
<g id="r37" transform="translate(0 296.5)"><path class="dl" d="M430 0H627.6"/><text x="430" y="2.5">NC 035465.1 Morelia viridis nidovirus</text><circle class="tg" cx="630" r="2.3"/></g>
<g id="r38" transform="translate(0 304.2)"><path class="dl" d="M430 0H627.6"/><text x="430" y="2.5">NC 024709.1 Ball python nidovirus</text><circle class="tg" cx="630" r="2.3"/></g>
<g id="r39" transform="translate(0 311.9)"><path class="dl" d="M430 0H627.6"/><text x="430" y="2.5">NC 046962.1 Hainan hebius popei torovirus</text><circle class="tg" cx="630" r="2.3"/></g>
<g id="r40" transform="translate(0 319.6)"><path class="dl" d="M430 0H631.6"/><text x="430" y="2.5">NC 033700.1 Xinzhou toro-like virus</text><circle class="tg" cx="634" r="2.3"/></g>
</g>

<!-- legend -->
<g id="legend">
<rect x="345" y="372" width="351" height="156" fill="#fff" stroke="#333" stroke-width="0.8"/>
<text class="hd" x="358" y="389">viruses:</text>
<circle class="tr" cx="361.5" cy="399.3" r="3.2"/><text class="le" x="368" y="401.8">this study, newly discovered</text>
<circle class="tb" cx="361.5" cy="411.7" r="3.2"/><text class="le" x="368" y="414.2">this study, rediscovered</text>
<circle class="tg" cx="361.5" cy="424.3" r="3.2"/><text class="le" x="368" y="426.8">reference</text>
<text class="hd" x="358" y="464">(predicted) hosts:</text>
<use href="#dm" class="hf" x="361.5" y="476"/><text class="le" x="368" y="478.5">fishes</text>
<use href="#dm" class="ha" x="361.5" y="488.5"/><text class="le" x="368" y="491">amphibians</text>
<use href="#dm" class="hv" x="361.5" y="501"/><text class="le" x="368" y="503.5">other vertebrates</text>
<use href="#dm" class="hi" x="361.5" y="513.5"/><text class="le" x="368" y="516">invertebrate sample</text>
<text class="hd" x="473" y="389">virus classification:</text>
<rect class="cf" x="473" y="395.8" width="7" height="7"/><text class="le" x="486" y="401.8">family-like OTU</text>
<rect class="cs" x="473" y="408.2" width="7" height="7"/><text class="le" x="486" y="414.2">subfamily-like OTU</text>
<rect class="cg" x="473" y="420.8" width="7" height="7"/><text class="le" x="486" y="426.8">genus-like OTU</text>
<text class="hd" x="473" y="464">traits:</text>
<rect class="ty" x="473" y="472.5" width="7" height="7"/><text class="le" x="486" y="478.5">bisegmented genome</text>
<rect class="to" x="473" y="485" width="7" height="7"/><text class="le" x="486" y="491">glycosidase (GH18) domain</text>
<rect class="tp" x="473" y="497.5" width="7" height="7"/><text class="le" x="486" y="503.5">recombinant S2</text>
<text class="hd" x="588" y="389">branching support:</text>
<circle class="nb" cx="591.5" cy="399.3" r="2.5"/><text class="le" x="598" y="401.8">&gt;70% bootstraps</text>
<circle class="nw" cx="591.5" cy="411.7" r="2.5"/><text class="le" x="598" y="414.2">&lt;70% bootstraps</text>
<text class="hd" x="588" y="464">connections:</text>
<path d="M587 476H598" stroke="#3cbc3c" stroke-width="1.2"/><text class="le" x="602" y="478.5" font-style="italic">Coronaviridae</text>
<path d="M587 488.5H598" stroke="#d67ad6" stroke-width="1.2"/><text class="le" x="602" y="491" font-style="italic">Piscanivirinae</text>
<path d="M587 501H598" stroke="#5a88d2" stroke-width="1.2"/><text class="le" x="602" y="503.5">other <tspan font-style="italic">Tobaniviridae</tspan></text>
</g>
</svg>
